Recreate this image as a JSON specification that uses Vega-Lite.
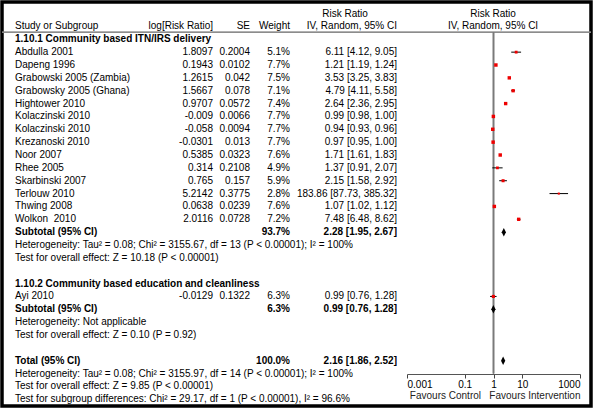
{
  "$schema": "https://vega.github.io/schema/vega-lite/v6.json",
  "width": 589,
  "height": 404,
  "autosize": {"type": "none"},
  "padding": {"left": 2, "top": 2, "right": 9, "bottom": 11},
  "background": "white",
  "config": {
    "view": {"stroke": "black", "strokeWidth": 3.5, "fill": "white"},
    "font": "Liberation Sans",
    "text": {"font": "Liberation Sans", "fontSize": 10, "baseline": "middle", "color": "black"}
  },
  "datasets": {
    "table": [
      {"r": 0, "c": 4, "t": "Risk Ratio", "k": "header"},
      {"r": 0, "c": 6, "t": "Risk Ratio", "k": "header"},
      {"r": 1, "c": 0, "t": "Study or Subgroup", "k": "header"},
      {"r": 1, "c": 1, "t": "log[Risk Ratio]", "k": "header"},
      {"r": 1, "c": 2, "t": "SE", "k": "header"},
      {"r": 1, "c": 3, "t": "Weight", "k": "header"},
      {"r": 1, "c": 5, "t": "IV, Random, 95% CI", "k": "header"},
      {"r": 1, "c": 6, "t": "IV, Random, 95% CI", "k": "header"},
      {"r": 2, "c": 0, "t": "1.10.1 Community based ITN/IRS delivery", "k": "group"},
      {"r": 3, "c": 0, "t": "Abdulla 2001", "k": "study"},
      {"r": 3, "c": 1, "t": "1.8097", "k": "study"},
      {"r": 3, "c": 2, "t": "0.2004", "k": "study"},
      {"r": 3, "c": 3, "t": "5.1%", "k": "study"},
      {"r": 3, "c": 5, "t": "6.11 [4.12, 9.05]", "k": "study"},
      {"r": 4, "c": 0, "t": "Dapeng 1996", "k": "study"},
      {"r": 4, "c": 1, "t": "0.1943", "k": "study"},
      {"r": 4, "c": 2, "t": "0.0102", "k": "study"},
      {"r": 4, "c": 3, "t": "7.7%", "k": "study"},
      {"r": 4, "c": 5, "t": "1.21 [1.19, 1.24]", "k": "study"},
      {"r": 5, "c": 0, "t": "Grabowski 2005 (Zambia)", "k": "study"},
      {"r": 5, "c": 1, "t": "1.2615", "k": "study"},
      {"r": 5, "c": 2, "t": "0.042", "k": "study"},
      {"r": 5, "c": 3, "t": "7.5%", "k": "study"},
      {"r": 5, "c": 5, "t": "3.53 [3.25, 3.83]", "k": "study"},
      {"r": 6, "c": 0, "t": "Grabowsky 2005 (Ghana)", "k": "study"},
      {"r": 6, "c": 1, "t": "1.5667", "k": "study"},
      {"r": 6, "c": 2, "t": "0.078", "k": "study"},
      {"r": 6, "c": 3, "t": "7.1%", "k": "study"},
      {"r": 6, "c": 5, "t": "4.79 [4.11, 5.58]", "k": "study"},
      {"r": 7, "c": 0, "t": "Hightower 2010", "k": "study"},
      {"r": 7, "c": 1, "t": "0.9707", "k": "study"},
      {"r": 7, "c": 2, "t": "0.0572", "k": "study"},
      {"r": 7, "c": 3, "t": "7.4%", "k": "study"},
      {"r": 7, "c": 5, "t": "2.64 [2.36, 2.95]", "k": "study"},
      {"r": 8, "c": 0, "t": "Kolaczinski 2010", "k": "study"},
      {"r": 8, "c": 1, "t": "-0.009", "k": "study"},
      {"r": 8, "c": 2, "t": "0.0066", "k": "study"},
      {"r": 8, "c": 3, "t": "7.7%", "k": "study"},
      {"r": 8, "c": 5, "t": "0.99 [0.98, 1.00]", "k": "study"},
      {"r": 9, "c": 0, "t": "Kolaczinski 2010", "k": "study"},
      {"r": 9, "c": 1, "t": "-0.058", "k": "study"},
      {"r": 9, "c": 2, "t": "0.0094", "k": "study"},
      {"r": 9, "c": 3, "t": "7.7%", "k": "study"},
      {"r": 9, "c": 5, "t": "0.94 [0.93, 0.96]", "k": "study"},
      {"r": 10, "c": 0, "t": "Krezanoski 2010", "k": "study"},
      {"r": 10, "c": 1, "t": "-0.0301", "k": "study"},
      {"r": 10, "c": 2, "t": "0.013", "k": "study"},
      {"r": 10, "c": 3, "t": "7.7%", "k": "study"},
      {"r": 10, "c": 5, "t": "0.97 [0.95, 1.00]", "k": "study"},
      {"r": 11, "c": 0, "t": "Noor 2007", "k": "study"},
      {"r": 11, "c": 1, "t": "0.5385", "k": "study"},
      {"r": 11, "c": 2, "t": "0.0323", "k": "study"},
      {"r": 11, "c": 3, "t": "7.6%", "k": "study"},
      {"r": 11, "c": 5, "t": "1.71 [1.61, 1.83]", "k": "study"},
      {"r": 12, "c": 0, "t": "Rhee 2005", "k": "study"},
      {"r": 12, "c": 1, "t": "0.314", "k": "study"},
      {"r": 12, "c": 2, "t": "0.2108", "k": "study"},
      {"r": 12, "c": 3, "t": "4.9%", "k": "study"},
      {"r": 12, "c": 5, "t": "1.37 [0.91, 2.07]", "k": "study"},
      {"r": 13, "c": 0, "t": "Skarbinski 2007", "k": "study"},
      {"r": 13, "c": 1, "t": "0.765", "k": "study"},
      {"r": 13, "c": 2, "t": "0.157", "k": "study"},
      {"r": 13, "c": 3, "t": "5.9%", "k": "study"},
      {"r": 13, "c": 5, "t": "2.15 [1.58, 2.92]", "k": "study"},
      {"r": 14, "c": 0, "t": "Terlouw 2010", "k": "study"},
      {"r": 14, "c": 1, "t": "5.2142", "k": "study"},
      {"r": 14, "c": 2, "t": "0.3775", "k": "study"},
      {"r": 14, "c": 3, "t": "2.8%", "k": "study"},
      {"r": 14, "c": 5, "t": "183.86 [87.73, 385.32]", "k": "study"},
      {"r": 15, "c": 0, "t": "Thwing 2008", "k": "study"},
      {"r": 15, "c": 1, "t": "0.0638", "k": "study"},
      {"r": 15, "c": 2, "t": "0.0239", "k": "study"},
      {"r": 15, "c": 3, "t": "7.6%", "k": "study"},
      {"r": 15, "c": 5, "t": "1.07 [1.02, 1.12]", "k": "study"},
      {"r": 16, "c": 0, "t": "Wolkon\u00a0 2010", "k": "study"},
      {"r": 16, "c": 1, "t": "2.0116", "k": "study"},
      {"r": 16, "c": 2, "t": "0.0728", "k": "study"},
      {"r": 16, "c": 3, "t": "7.2%", "k": "study"},
      {"r": 16, "c": 5, "t": "7.48 [6.48, 8.62]", "k": "study"},
      {"r": 17, "c": 0, "t": "Subtotal (95% CI)", "k": "subtotal"},
      {"r": 17, "c": 3, "t": "93.7%", "k": "subtotal"},
      {"r": 17, "c": 5, "t": "2.28 [1.95, 2.67]", "k": "subtotal"},
      {"r": 18, "c": 0, "t": "Heterogeneity: Tau² = 0.08; Chi² = 3155.67, df = 13 (P < 0.00001); I² = 100%", "k": "note"},
      {"r": 19, "c": 0, "t": "Test for overall effect: Z = 10.18 (P < 0.00001)", "k": "note"},
      {"r": 21, "c": 0, "t": "1.10.2 Community based education and cleanliness", "k": "group"},
      {"r": 22, "c": 0, "t": "Ayi 2010", "k": "study"},
      {"r": 22, "c": 1, "t": "-0.0129", "k": "study"},
      {"r": 22, "c": 2, "t": "0.1322", "k": "study"},
      {"r": 22, "c": 3, "t": "6.3%", "k": "study"},
      {"r": 22, "c": 5, "t": "0.99 [0.76, 1.28]", "k": "study"},
      {"r": 23, "c": 0, "t": "Subtotal (95% CI)", "k": "subtotal"},
      {"r": 23, "c": 3, "t": "6.3%", "k": "subtotal"},
      {"r": 23, "c": 5, "t": "0.99 [0.76, 1.28]", "k": "subtotal"},
      {"r": 24, "c": 0, "t": "Heterogeneity: Not applicable", "k": "note"},
      {"r": 25, "c": 0, "t": "Test for overall effect: Z = 0.10 (P = 0.92)", "k": "note"},
      {"r": 27, "c": 0, "t": "Total (95% CI)", "k": "subtotal"},
      {"r": 27, "c": 3, "t": "100.0%", "k": "subtotal"},
      {"r": 27, "c": 5, "t": "2.16 [1.86, 2.52]", "k": "subtotal"},
      {"r": 28, "c": 0, "t": "Heterogeneity: Tau² = 0.08; Chi² = 3155.97, df = 14 (P < 0.00001); I² = 100%", "k": "note"},
      {"r": 29, "c": 0, "t": "Test for overall effect: Z = 9.85 (P < 0.00001)", "k": "note"},
      {"r": 30, "c": 0, "t": "Test for subgroup differences: Chi² = 29.17, df = 1 (P < 0.00001), I² = 96.6%", "k": "note"}
    ],
    "studies": [
      {"r": 3, "est": 6.11, "lo": 4.12, "hi": 9.05, "w": 5.1},
      {"r": 4, "est": 1.21, "lo": 1.19, "hi": 1.24, "w": 7.7},
      {"r": 5, "est": 3.53, "lo": 3.25, "hi": 3.83, "w": 7.5},
      {"r": 6, "est": 4.79, "lo": 4.11, "hi": 5.58, "w": 7.1},
      {"r": 7, "est": 2.64, "lo": 2.36, "hi": 2.95, "w": 7.4},
      {"r": 8, "est": 0.99, "lo": 0.98, "hi": 1.0, "w": 7.7},
      {"r": 9, "est": 0.94, "lo": 0.93, "hi": 0.96, "w": 7.7},
      {"r": 10, "est": 0.97, "lo": 0.95, "hi": 1.0, "w": 7.7},
      {"r": 11, "est": 1.71, "lo": 1.61, "hi": 1.83, "w": 7.6},
      {"r": 12, "est": 1.37, "lo": 0.91, "hi": 2.07, "w": 4.9},
      {"r": 13, "est": 2.15, "lo": 1.58, "hi": 2.92, "w": 5.9},
      {"r": 14, "est": 183.86, "lo": 87.73, "hi": 385.32, "w": 2.8},
      {"r": 15, "est": 1.07, "lo": 1.02, "hi": 1.12, "w": 7.6},
      {"r": 16, "est": 7.48, "lo": 6.48, "hi": 8.62, "w": 7.2},
      {"r": 22, "est": 0.99, "lo": 0.76, "hi": 1.28, "w": 6.3}
    ],
    "pooled": [
      {"r": 17, "est": 2.28, "lo": 1.95, "hi": 2.67},
      {"r": 23, "est": 0.99, "lo": 0.76, "hi": 1.28},
      {"r": 27, "est": 2.16, "lo": 1.86, "hi": 2.52}
    ]
  },
  "resolve": {"scale": {"x": "independent"}},
  "layer": [
    {
      "data": {"name": "table"},
      "encoding": {
        "y": {"field": "r", "type": "quantitative", "scale": {"domain": [-0.9, 30.52], "reverse": true, "nice": false, "zero": false}, "axis": null},
        "x": {"field": "c", "type": "quantitative", "scale": {"type": "linear", "domain": [0, 1, 2, 3, 4, 5, 6], "range": [13, 211, 248, 288, 343, 395, 491], "nice": false, "zero": false}, "axis": null},
        "text": {"field": "t"}
      },
      "layer": [
        {"transform": [{"filter": "datum.c == 0 && datum.k != 'group' && datum.k != 'subtotal'"}], "mark": {"type": "text", "align": "left"}},
        {"transform": [{"filter": "datum.c == 0 && (datum.k == 'group' || datum.k == 'subtotal')"}], "mark": {"type": "text", "align": "left", "fontWeight": "bold"}},
        {"transform": [{"filter": "datum.c != 0 && datum.c != 4 && datum.c != 6 && datum.k != 'subtotal'"}], "mark": {"type": "text", "align": "right"}},
        {"transform": [{"filter": "datum.c != 0 && datum.c != 4 && datum.c != 6 && datum.k == 'subtotal'"}], "mark": {"type": "text", "align": "right", "fontWeight": "bold"}},
        {"transform": [{"filter": "datum.c == 4 || datum.c == 6"}], "mark": {"type": "text", "align": "center"}}
      ]
    },
    {
      "layer": [
        {
          "data": {"name": "pooled"},
          "mark": {"type": "rule", "color": "#8a8a8a", "strokeWidth": 1},
          "encoding": {"y": {"datum": 1.45, "type": "quantitative"}}
        },
        {
          "data": {"name": "pooled"},
          "mark": {"type": "rule", "color": "#7a7a7a", "strokeWidth": 1.4},
          "encoding": {
            "x": {"datum": 1, "type": "quantitative", "scale": {"type": "log", "domain": [0.001, 1000], "range": [405, 578], "nice": false},
              "axis": {"orient": "bottom", "offset": -32, "values": [0.001, 0.1, 1, 10, 1000], "format": "~g", "grid": false,
                "labelFont": "Liberation Sans", "labelFontSize": 10, "labelColor": "black", "labelPadding": 1, "labelFlush": true,
                "tickSize": 4, "tickColor": "#444444", "domainColor": "#555555",
                "title": "Favours Control\u00a0\u00a0\u00a0Favours Intervention", "titleFont": "Liberation Sans", "titleFontSize": 10,
                "titleFontWeight": "normal", "titleColor": "#222222", "titleAnchor": "end", "titlePadding": 1}},
            "y": {"datum": 1.45, "type": "quantitative"},
            "y2": {"datum": 28}
          }
        },
        {
          "data": {"name": "studies"},
          "mark": {"type": "rule", "color": "black", "strokeWidth": 1},
          "encoding": {
            "x": {"field": "lo", "type": "quantitative", "scale": {"type": "log", "domain": [0.001, 1000], "range": [405, 578], "nice": false}},
            "x2": {"field": "hi"},
            "y": {"field": "r", "type": "quantitative"}
          }
        },
        {
          "data": {"name": "studies"},
          "mark": {"type": "point", "shape": "square", "filled": true, "color": "#ee0000", "opacity": 1},
          "encoding": {
            "x": {"field": "est", "type": "quantitative", "scale": {"type": "log", "domain": [0.001, 1000], "range": [405, 578], "nice": false}},
            "y": {"field": "r", "type": "quantitative"},
            "size": {"field": "w", "type": "quantitative", "scale": {"domain": [0, 7.7], "range": [0, 12]}, "legend": null}
          }
        },
        {
          "data": {"name": "pooled"},
          "mark": {"type": "point", "shape": "M0,-1L0.5,0L0,1L-0.5,0Z", "filled": true, "color": "black", "opacity": 1, "size": 72},
          "encoding": {
            "x": {"field": "est", "type": "quantitative", "scale": {"type": "log", "domain": [0.001, 1000], "range": [405, 578], "nice": false}},
            "y": {"field": "r", "type": "quantitative"}
          }
        }
      ]
    }
  ]
}
